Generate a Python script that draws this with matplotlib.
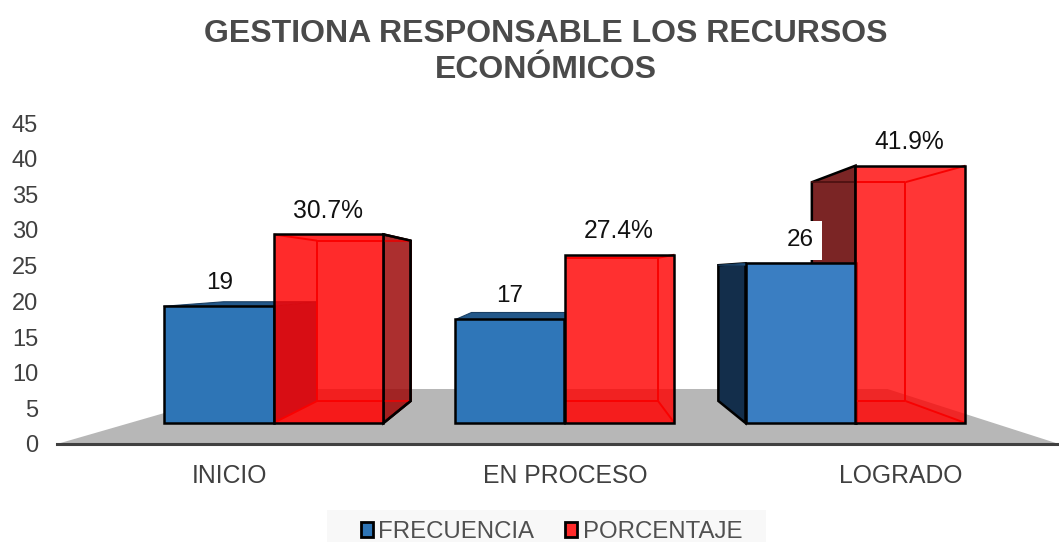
import matplotlib
matplotlib.use("Agg")
import matplotlib.pyplot as plt
from matplotlib.patches import Polygon, Rectangle

plt.rcParams['font.family'] = ['Liberation Sans', 'DejaVu Sans']

categories = ["INICIO", "EN PROCESO", "LOGRADO"]
frecuencia = [19, 17, 26]
porcentaje = [30.7, 27.4, 41.9]
y_ticks = [0, 5, 10, 15, 20, 25, 30, 35, 40, 45]
series_names = ["FRECUENCIA", "PORCENTAJE"]
title = "GESTIONA RESPONSABLE LOS RECURSOS\nECONÓMICOS"

W, H = 1059, 542
fig = plt.figure(figsize=(W / 100, H / 100), dpi=100, facecolor="white")
ax = fig.add_axes([57 / W, (H - 444) / H, 1 - 57 / W, 321 / H])
ax.set_facecolor("none")
ax.set_ylim(0, 45)
ax.set_xlim(-216.5 / 291, 785.5 / 291)

# perspective model of the 3D chart (axis units)
BASE, K = 2.944, 0.861     # front plane: bottom and vertical scale
WIDTH = 0.378              # bar width
VX, VY, S = 1.0, 23.55, 0.85  # vanishing point and depth scale
TEXT = "#404040"
BLUE = ["#2E75B6", "#2F76B8", "#3A7EC2"]
RED_ALPHA = [0.83, 0.81, 0.79]
EDGE = 1.8


def back(x, y):
    return VX + S * (x - VX), VY + S * (y - VY)


def top_of(v):
    return BASE + K * v


def poly(pts, **kw):
    ax.add_patch(Polygon(pts, closed=True, **kw))


def corners(x0, x1, v):
    y1 = top_of(v)
    return (x0, BASE), (x1, BASE), (x1, y1), (x0, y1)


# floor
poly([(ax.get_xlim()[0], 0), (-26 / 291, 7.71), (614 / 291, 7.71), (ax.get_xlim()[1], 0)],
     fc="#B7B7B7", ec="none", zorder=1)

DARK_BLUE_SIDE = "#132E4B"
for i, (f, p) in enumerate(zip(frecuencia, porcentaje)):
    fl, fr, tr, tl = corners(i, i + WIDTH, p)
    # red: outer left side, behind the blue box
    if i > VX:
        poly([tl, back(*tl), back(*fl), fl], fc="#7B2525", ec="black", lw=EDGE, zorder=2)
        btop = back(*tl)
        ax.plot([btop[0], i], [btop[1], btop[1]], color="#4A1010", lw=1.2, zorder=2.5)
    # blue box: sides and top
    bl, br, btr, btl = corners(i - WIDTH, i, f)
    if i - WIDTH > VX:
        poly([btl, back(*btl), back(*bl), bl], fc=DARK_BLUE_SIDE, ec="black", lw=EDGE, zorder=3)
    if i < VX:
        poly([btr, back(*btr), back(*br), br], fc="#1F4E79", ec="none", zorder=3)
    poly([btl, btr, back(*btr), back(*btl)], fc="#23588A", ec="#1A3F63", lw=0.8, zorder=3)
    # red box: floor of the box, outer right side
    poly([fl, fr, back(*fr), back(*fl)], fc=(1, 0.35, 0.35, 0.30), ec="none", zorder=3)
    if i + WIDTH < VX:
        poly([tr, back(*tr), back(*fr), fr], fc=(0.62, 0.04, 0.04, 0.85), ec="black", lw=EDGE, zorder=3)

# front faces
ax.bar([i - WIDTH / 2 for i in range(3)], [K * v for v in frecuencia], WIDTH, bottom=BASE,
       color=BLUE, edgecolor="black", linewidth=EDGE, zorder=4)
ax.bar([i + WIDTH / 2 for i in range(3)], [K * v for v in porcentaje], WIDTH, bottom=BASE,
       color=[(1, 0, 0, a) for a in RED_ALPHA], edgecolor="black", linewidth=EDGE, zorder=6)

# inner edges of the translucent red boxes
for i, p in enumerate(porcentaje):
    c = corners(i, i + WIDTH, p)
    b = [back(*q) for q in c]
    clip = Rectangle((i, 0), 2, 45, transform=ax.transData)
    for pts in list(zip(b, b[1:] + b[:1])) + list(zip(c, b)):
        line, = ax.plot([pts[0][0], pts[1][0]], [pts[0][1], pts[1][1]], color="#E00808", lw=1.4,
                        zorder=5, solid_capstyle="butt")
        line.set_clip_path(clip)
    # redraw outer edges in black
    if i + WIDTH < VX:
        ax.plot([c[2][0], b[2][0], b[1][0], c[1][0]], [c[2][1], b[2][1], b[1][1], c[1][1]],
                color="black", lw=EDGE, zorder=7)

# value labels
label_dx_f = [-54 / 291, -55 / 291, -55 / 291]
for i, (f, p) in enumerate(zip(frecuencia, porcentaje)):
    bb = dict(fc="white", ec="none", pad=6) if i == 2 else None
    ax.text(i + label_dx_f[i], top_of(f) + 3.2, f"{f}", ha="center", va="center",
            fontsize=17.5, color="#111111", zorder=9, bbox=bb)
    ax.text(i + 54 / 291, top_of(p) + 3.3, f"{p}%", ha="center", va="center",
            fontsize=17.7, color="#111111", zorder=9)

# axes
for s in ("top", "right", "left"):
    ax.spines[s].set_visible(False)
ax.spines["bottom"].set_linewidth(2.2)
ax.spines["bottom"].set_color(TEXT)
ax.spines["bottom"].set_zorder(8)
ax.set_yticks(y_ticks)
ax.set_xticks([1.002 + (i - 1) * 1.155 for i in range(3)], categories)
ax.tick_params(axis="y", length=0, pad=13.5, labelsize=17, labelcolor=TEXT)
ax.tick_params(axis="x", length=0, pad=14.5, labelsize=17.8, labelcolor=TEXT)

fig.text(546 / W, 1 - 52 / H, title, ha="center", va="center", fontsize=23, fontweight="bold",
         color="#4A4A4A", linespacing=1.25)

# legend
fig.add_artist(Rectangle((327 / W, 0), 439 / W, 32 / H, transform=fig.transFigure,
                         fc="#F8F8F8", ec="none", zorder=0))
handles = [Rectangle((0, 0), 1, 1, fc=BLUE[0], ec="black", lw=2),
           Rectangle((0, 0), 1, 1, fc="#FF2A2A", ec="black", lw=2)]
fig.legend(handles, series_names, loc="center", bbox_to_anchor=(551.5 / W, 1 - 532 / H), ncols=2,
           frameon=False, fontsize=17.3, labelcolor="#505050", handlelength=0.5, handleheight=0.55,
           handletextpad=0.22, columnspacing=1.3, borderpad=0, borderaxespad=0)

fig.savefig("out.png", dpi=100)
